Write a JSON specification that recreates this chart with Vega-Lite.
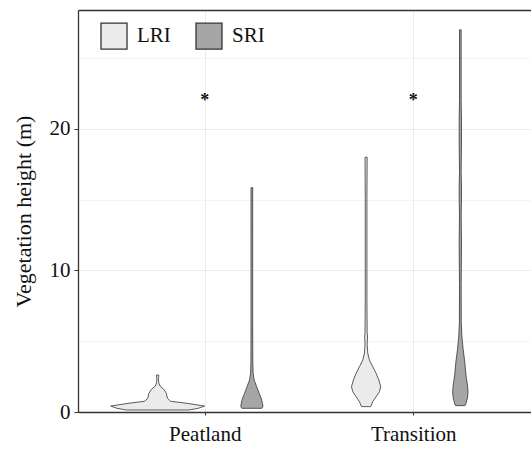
{
  "$schema": "https://vega.github.io/schema/vega-lite/v6.json",
  "autosize": {"type": "none"},
  "padding": {"left": 78, "top": 10, "right": 0, "bottom": 37},
  "width": 453,
  "height": 402,
  "background": "white",
  "config": {
    "view": {"stroke": null},
    "axis": {
      "domainColor": "#333333",
      "domainWidth": 1.3,
      "tickColor": "#333333",
      "tickSize": 4,
      "labelFont": "Liberation Serif",
      "labelFontSize": 21,
      "labelColor": "#111111",
      "titleFont": "Liberation Serif",
      "titleFontSize": 22,
      "titleFontWeight": "normal",
      "titleColor": "#111111",
      "gridColor": "#ebebeb",
      "gridWidth": 1
    },
    "legend": {
      "labelFont": "Liberation Serif",
      "labelFontSize": 21,
      "labelColor": "#111111"
    }
  },
  "resolve": {"axis": {"x": "independent", "y": "independent"}},
  "layer": [
    {
      "data": {
        "values": [
          {"site": "Peatland", "group": "LRI", "v": 0.14, "w": 0.150},
          {"site": "Peatland", "group": "LRI", "v": 0.26, "w": 0.195},
          {"site": "Peatland", "group": "LRI", "v": 0.42, "w": 0.225},
          {"site": "Peatland", "group": "LRI", "v": 0.61, "w": 0.142},
          {"site": "Peatland", "group": "LRI", "v": 0.76, "w": 0.062},
          {"site": "Peatland", "group": "LRI", "v": 0.97, "w": 0.047},
          {"site": "Peatland", "group": "LRI", "v": 1.32, "w": 0.042},
          {"site": "Peatland", "group": "LRI", "v": 1.60, "w": 0.030},
          {"site": "Peatland", "group": "LRI", "v": 1.84, "w": 0.011},
          {"site": "Peatland", "group": "LRI", "v": 2.07, "w": 0.005},
          {"site": "Peatland", "group": "LRI", "v": 2.38, "w": 0.004},
          {"site": "Peatland", "group": "LRI", "v": 2.61, "w": 0.006},

          {"site": "Peatland", "group": "SRI", "v": 0.26, "w": 0.048},
          {"site": "Peatland", "group": "SRI", "v": 0.38, "w": 0.053},
          {"site": "Peatland", "group": "SRI", "v": 0.61, "w": 0.051},
          {"site": "Peatland", "group": "SRI", "v": 0.97, "w": 0.045},
          {"site": "Peatland", "group": "SRI", "v": 1.32, "w": 0.035},
          {"site": "Peatland", "group": "SRI", "v": 1.79, "w": 0.023},
          {"site": "Peatland", "group": "SRI", "v": 2.26, "w": 0.011},
          {"site": "Peatland", "group": "SRI", "v": 2.73, "w": 0.006},
          {"site": "Peatland", "group": "SRI", "v": 3.5, "w": 0.0045},
          {"site": "Peatland", "group": "SRI", "v": 6.0, "w": 0.004},
          {"site": "Peatland", "group": "SRI", "v": 10.0, "w": 0.004},
          {"site": "Peatland", "group": "SRI", "v": 13.0, "w": 0.004},
          {"site": "Peatland", "group": "SRI", "v": 15.85, "w": 0.004},

          {"site": "Transition", "group": "LRI", "v": 0.38, "w": 0.022},
          {"site": "Transition", "group": "LRI", "v": 0.73, "w": 0.032},
          {"site": "Transition", "group": "LRI", "v": 1.08, "w": 0.048},
          {"site": "Transition", "group": "LRI", "v": 1.43, "w": 0.064},
          {"site": "Transition", "group": "LRI", "v": 1.79, "w": 0.070},
          {"site": "Transition", "group": "LRI", "v": 2.26, "w": 0.061},
          {"site": "Transition", "group": "LRI", "v": 2.73, "w": 0.048},
          {"site": "Transition", "group": "LRI", "v": 3.2, "w": 0.032},
          {"site": "Transition", "group": "LRI", "v": 3.67, "w": 0.016},
          {"site": "Transition", "group": "LRI", "v": 4.15, "w": 0.008},
          {"site": "Transition", "group": "LRI", "v": 4.8, "w": 0.005},
          {"site": "Transition", "group": "LRI", "v": 5.3, "w": 0.007},
          {"site": "Transition", "group": "LRI", "v": 5.6, "w": 0.005},
          {"site": "Transition", "group": "LRI", "v": 8.0, "w": 0.004},
          {"site": "Transition", "group": "LRI", "v": 12.0, "w": 0.004},
          {"site": "Transition", "group": "LRI", "v": 15.0, "w": 0.004},
          {"site": "Transition", "group": "LRI", "v": 18.0, "w": 0.005},

          {"site": "Transition", "group": "SRI", "v": 0.45, "w": 0.022},
          {"site": "Transition", "group": "SRI", "v": 0.49, "w": 0.025},
          {"site": "Transition", "group": "SRI", "v": 0.97, "w": 0.034},
          {"site": "Transition", "group": "SRI", "v": 1.43, "w": 0.037},
          {"site": "Transition", "group": "SRI", "v": 1.91, "w": 0.034},
          {"site": "Transition", "group": "SRI", "v": 2.61, "w": 0.027},
          {"site": "Transition", "group": "SRI", "v": 3.56, "w": 0.021},
          {"site": "Transition", "group": "SRI", "v": 4.5, "w": 0.013},
          {"site": "Transition", "group": "SRI", "v": 5.44, "w": 0.007},
          {"site": "Transition", "group": "SRI", "v": 6.38, "w": 0.0045},
          {"site": "Transition", "group": "SRI", "v": 9.0, "w": 0.004},
          {"site": "Transition", "group": "SRI", "v": 11.6, "w": 0.0055},
          {"site": "Transition", "group": "SRI", "v": 12.0, "w": 0.0055},
          {"site": "Transition", "group": "SRI", "v": 14.0, "w": 0.004},
          {"site": "Transition", "group": "SRI", "v": 15.0, "w": 0.0055},
          {"site": "Transition", "group": "SRI", "v": 15.9, "w": 0.0055},
          {"site": "Transition", "group": "SRI", "v": 17.0, "w": 0.004},
          {"site": "Transition", "group": "SRI", "v": 19.0, "w": 0.0055},
          {"site": "Transition", "group": "SRI", "v": 20.6, "w": 0.0055},
          {"site": "Transition", "group": "SRI", "v": 22.0, "w": 0.004},
          {"site": "Transition", "group": "SRI", "v": 27.0, "w": 0.004}
        ]
      },
      "transform": [
        {"calculate": "(datum.site === 'Peatland' ? 1 : 2) + (datum.group === 'LRI' ? -0.226 : 0.226)", "as": "xc"},
        {"calculate": "datum.xc + datum.w", "as": "xr"},
        {"calculate": "datum.xc - datum.w", "as": "xl"}
      ],
      "mark": {"type": "area", "orient": "horizontal", "stroke": "#333333", "strokeWidth": 0.8},
      "encoding": {
        "y": {
          "field": "v", "type": "quantitative",
          "scale": {"domain": [0, 28.4], "nice": false, "zero": false},
          "axis": {"values": [0, 10, 20], "title": "Vegetation height (m)", "titlePadding": 14, "labelPadding": 4, "grid": true}
        },
        "x": {
          "field": "xr", "type": "quantitative",
          "scale": {"domain": [0.392, 2.565], "nice": false, "zero": false},
          "axis": {"values": [1, 2], "labelExpr": "datum.value === 1 ? 'Peatland' : (datum.value === 2 ? 'Transition' : '')", "title": null, "grid": true, "tickSize": 3, "labelPadding": 8}
        },
        "x2": {"field": "xl"},
        "detail": {"field": "site"},
        "color": {
          "field": "group", "type": "nominal",
          "scale": {"domain": ["LRI", "SRI"], "range": ["#ebebeb", "#a6a6a6"]},
          "legend": {
            "title": null, "orient": "none", "legendX": 22, "legendY": 12,
            "direction": "horizontal", "symbolType": "square", "symbolSize": 676,
            "symbolStrokeColor": "#333333", "symbolStrokeWidth": 1.3,
            "labelOffset": 9, "columnPadding": 22, "padding": 0
          }
        }
      }
    },
    {
      "data": {
        "values": [
          {"site": "Peatland", "label": "*", "v": 21.95},
          {"site": "Transition", "label": "*", "v": 21.95}
        ]
      },
      "transform": [
        {"calculate": "datum.site === 'Peatland' ? 1 : 2", "as": "xp"}
      ],
      "mark": {"type": "text", "font": "Liberation Serif", "fontSize": 18, "fontWeight": "bold", "baseline": "middle", "color": "#111111"},
      "encoding": {
        "x": {
          "field": "xp", "type": "quantitative",
          "axis": {"orient": "top", "labels": false, "ticks": false, "grid": false, "title": null, "domain": true}
        },
        "y": {
          "field": "v", "type": "quantitative",
          "axis": {"orient": "left", "values": [5, 15, 25], "labels": false, "ticks": false, "domain": false, "title": null, "grid": true, "gridColor": "#f4f4f4"}
        },
        "text": {"field": "label"}
      }
    }
  ]
}
